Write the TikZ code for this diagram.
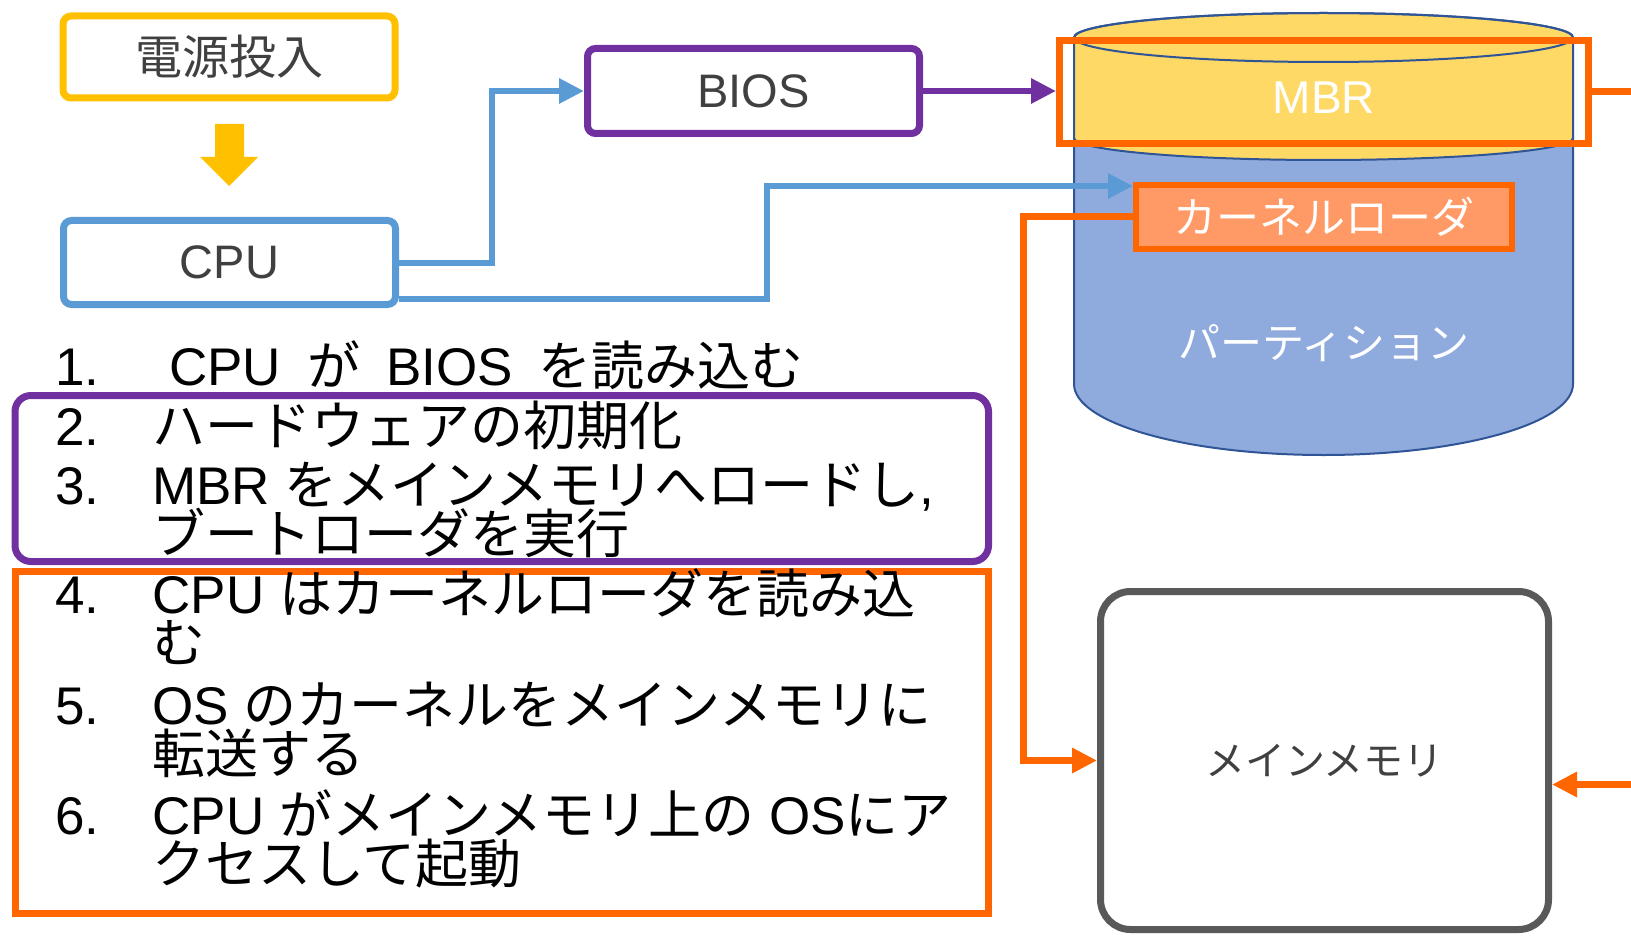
\documentclass[tikz,border=0pt]{standalone}
\usepackage{fontspec}
\setmainfont{Liberation Sans}
\newfontfamily\ja{Noto Sans CJK JP}
\newcommand{\jp}[1]{{\ja #1}}
\newcommand{\stepno}[1]{\makebox[48.5pt][l]{#1}}
\newcommand{\tightlines}{\lineskiplimit=-100pt\relax}
\usepackage{xcolor}
\usetikzlibrary{arrows.meta}
\usetikzlibrary{calc}
\definecolor{pptyellow}{HTML}{FFC000}
\definecolor{pptblue}{HTML}{5B9BD5}
\definecolor{pptpurple}{HTML}{7030A0}
\definecolor{pptorange}{HTML}{FF6600}
\definecolor{pptgray}{HTML}{595959}
\definecolor{pptdark}{HTML}{404040}
\definecolor{mbrfill}{HTML}{FFD966}
\definecolor{diskfill}{HTML}{8FAADC}
\definecolor{diskline}{HTML}{2F5597}
\definecolor{loaderfill}{HTML}{FF9966}
\tikzset{
    box/.style = {align=center, inner sep=0pt, text centered, line width=3.5pt, rounded corners=4pt, fill=white, text=pptdark, font=\fontsize{23.5}{28}\selectfont},
    yellow_box/.style = {box, draw=pptyellow, minimum width=166pt, minimum height=41pt},
    blue_box/.style = {box, draw=pptblue, minimum width=166pt, minimum height=42pt},
    purple_box/.style = {box, draw=pptpurple, minimum width=166pt, minimum height=42.5pt},
    gray_box/.style = {box, draw=pptgray, rounded corners=15pt, minimum width=224pt, minimum height=169pt, font=\ja\fontsize{20}{24}\selectfont},
    list_frame/.style = {rectangle, line width=3.5pt, minimum width=486.75pt, inner sep=0pt}
}
\tikzset{
    mbr_frame/.style = {rectangle, draw=pptorange, line width=3.5pt, minimum width=264.5pt, minimum height=51.5pt, inner sep=0pt},
    loader_box/.style = {rectangle, draw=pptorange, fill=loaderfill, line width=3pt, minimum width=188pt, minimum height=32pt, inner sep=0pt, text=white, font=\ja\fontsize{21.5}{26}\selectfont},
    disk_text/.style = {inner sep=0pt, text=white},
    step_item/.style = {anchor=base west, inner sep=0pt, align=left, font=\fontsize{26.5}{24.5}\selectfont\tightlines},
    blue_arrow/.style = {->, draw=pptblue, line width=3pt},
    purple_arrow/.style = {->, draw=pptpurple, line width=3pt},
    orange_arrow/.style = {->, draw=pptorange, line width=3.5pt}
}
\begin{document}
\begin{tikzpicture}[x=0.5pt, y=-0.5pt, >={Triangle[length=12.5pt,width=12pt]}]
\useasboundingbox (0,0) rectangle (1631,936);

% power on -> cpu -> bios
\node [yellow_box] (power) at (229,57) {\jp{電源投入}};
\fill [pptyellow] (215,124) -- (244,124) -- (244,157) -- (258,157) -- (229,186) -- (200,157) -- (215,157) -- cycle;
\node [blue_box] (cpu) at (229.5,262.5) {CPU};
\node [purple_box] (bios) at (753.5,91) {BIOS};

% disk
\fill [diskfill] (1074,138) -- (1074,384) arc[start angle=180, end angle=360, x radius=124.75pt, y radius=35.5pt] -- (1573,138) -- cycle;
\draw [diskline, line width=1pt] (1074,138) -- (1074,384) arc[start angle=180, end angle=360, x radius=124.75pt, y radius=35.5pt] -- (1573,138);
\filldraw [fill=mbrfill, draw=diskline, line width=1pt] (1074,37.5) -- (1074,138) arc[start angle=180, end angle=360, x radius=124.75pt, y radius=11pt] -- (1573,37.5) arc[start angle=0, end angle=180, x radius=124.75pt, y radius=12.25pt] -- cycle;
\draw [diskline, line width=1pt] (1323.5,37.5) ellipse[x radius=124.75pt, y radius=12.25pt];
\node [disk_text, font=\fontsize{23}{28}\selectfont] (mbrlbl) at (1324,98) {MBR};
\node [mbr_frame] (mbr) at (1324,92) {};
\node [loader_box] (loader) at (1324,217) {カーネルローダ};
\node [disk_text, font=\ja\fontsize{21}{26}\selectfont] (part) at (1324,343) {パーティション};

% main memory
\node [gray_box] (mem) at (1324.5,760.5) {メインメモリ};

% steps (multi-line items sit on the baseline of their last line)
\node [list_frame, draw=pptpurple, rounded corners=8pt, minimum height=83pt] (grp1) at (501.75,478.5) {};
\node [list_frame, draw=pptorange, minimum height=171pt] (grp2) at (501.75,742.5) {};
\node [step_item] (s1) at (55,385) {\stepno{1.}\hspace{8.5pt}CPU\hspace{13pt}\jp{が}\hspace{13pt}BIOS\hspace{13pt}\jp{を読み込む}};
\node [step_item] (s2) at (55,445) {\stepno{2.}\jp{ハードウェアの初期化}};
\node [step_item] (s3) at (55,553) {\stepno{3.}MBR \jp{をメインメモリへロードし},\\\stepno{}\jp{ブートローダを実行}};
\node [step_item] (s4) at (55,662) {\stepno{4.}CPU \jp{はカーネルローダを読み込}\\\stepno{}\jp{む}};
\node [step_item] (s5) at (55,773) {\stepno{5.}OS \jp{のカーネルをメインメモリに}\\\stepno{}\jp{転送する}};
\node [step_item] (s6) at (55,883) {\stepno{6.}CPU \jp{がメインメモリ上の} OS\jp{にア}\\\stepno{}\jp{クセスして起動}};

% connectors
\draw [blue_arrow] (cpu.east) -- ++(93,0) |- (bios.west);
\draw [blue_arrow] ($(cpu.east)+(0,36.5)$) -- ++(368,0) |- ($(loader.north west)+(0,4)$);
\draw [purple_arrow] (bios.east) -- (bios.east -| mbr.west);
\draw [orange_arrow] (loader.west) -- ++(-110,0) |- (mem.west);
\draw [orange_arrow] (mbr.east) -- ++(55,0) |- ($(mem.east)+(0,24)$);
\end{tikzpicture}
\end{document}
